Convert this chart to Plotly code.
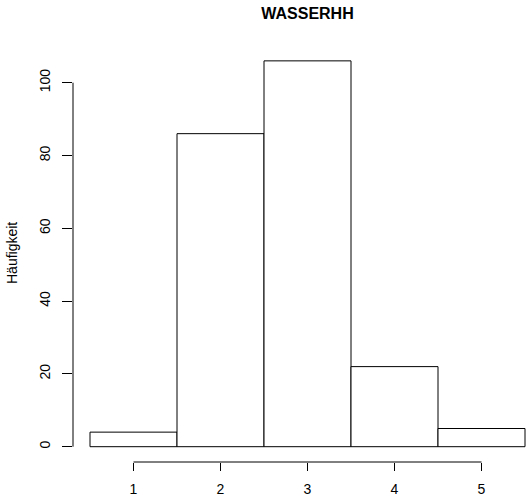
import plotly.graph_objects as go

# Frequency table of the WASSERHH variable
categories = [1, 2, 3, 4, 5]
counts = [4, 86, 106, 22, 5]
y_ticks = [0, 20, 40, 60, 80, 100]
x_tick_labels = ["1", "2", "3", "4", "5"]

W, H = 527, 499
ML, MR, MT, MB = 73, 0, 40, 37
plot_w = W - ML - MR
plot_h = H - MT - MB

# horizontal scale: one category = 87 px, first bar starts 17 px right of the y axis
px_per_cat = 87.0
x0 = 0.5 - 17 / px_per_cat
x1 = x0 + plot_w / px_per_cat

# vertical scale: 3.64 px per count, baseline 15.3 px above the plot bottom
px_per_unit = 3.64
y0 = -15.3 / px_per_unit
y1 = y0 + plot_h / px_per_unit

FONT = "Liberation Sans, Arial, sans-serif"

fig = go.Figure(
    go.Bar(
        x=categories,
        y=counts,
        width=1,
        marker=dict(color="white", line=dict(color="black", width=1)),
        showlegend=False,
    )
)

fig.update_layout(
    width=W,
    height=H,
    margin=dict(l=ML, r=MR, t=MT, b=MB, pad=0),
    paper_bgcolor="white",
    plot_bgcolor="white",
    font=dict(family=FONT, size=14, color="black"),
    title=dict(
        text="<b>WASSERHH</b>",
        font=dict(family=FONT, size=16, color="black"),
        x=(307.5 - ML) / plot_w,
        xref="paper",
        xanchor="center",
        y=1 - 13 / H,
        yref="container",
        yanchor="middle",
    ),
    xaxis=dict(
        range=[x0, x1],
        tickvals=categories,
        ticktext=x_tick_labels,
        ticks="outside",
        ticklen=8,
        tickwidth=1,
        tickcolor="black",
        showline=False,
        showgrid=False,
        zeroline=False,
        automargin=False,
        ticklabelstandoff=6,
    ),
    yaxis=dict(
        range=[y0, y1],
        tickvals=y_ticks,
        ticks="outside",
        ticklen=10,
        tickwidth=1,
        tickcolor="black",
        tickangle=-90,
        showline=False,
        showgrid=False,
        zeroline=False,
        automargin=False,
        ticklabelstandoff=6,
    ),
    shapes=[
        # x axis line spanning first to last tick
        dict(type="line", xref="x", yref="paper", x0=categories[0], x1=categories[-1],
             y0=0, y1=0, line=dict(color="black", width=1)),
        # y axis line spanning first to last tick
        dict(type="line", xref="paper", yref="y", x0=0, x1=0,
             y0=y_ticks[0], y1=y_ticks[-1], line=dict(color="black", width=1)),
    ],
    annotations=[
        dict(
            text="Häufigkeit",
            xref="paper",
            yref="paper",
            x=(12 - ML) / plot_w,
            y=(H - MB - 253) / plot_h,
            xanchor="center",
            yanchor="middle",
            textangle=-90,
            showarrow=False,
            font=dict(family=FONT, size=14, color="black"),
        )
    ],
)

fig.write_html("out.html")
